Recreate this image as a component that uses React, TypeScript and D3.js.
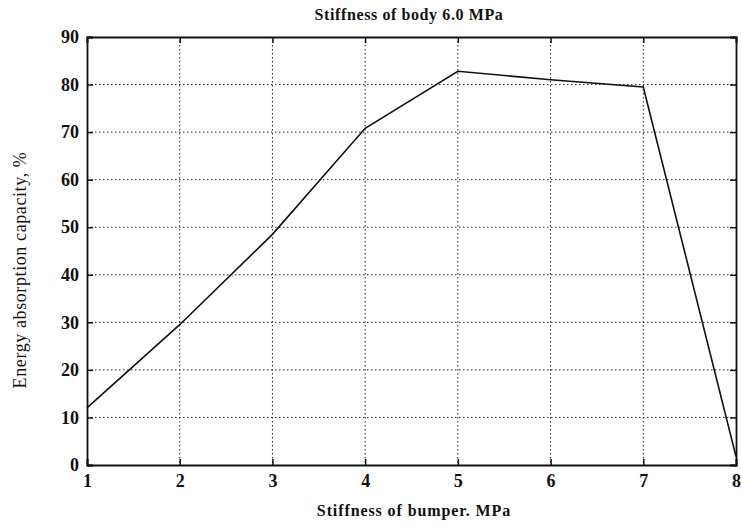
import React, { useRef, useEffect } from "react";
import * as d3 from "d3";

const bumperStiffness = [1, 2, 3, 4, 5, 6, 7, 8];
const energyAbsorption = [12, 29.5, 48.5, 70.8, 82.8, 81, 79.5, 1.8];
const xTicks = [1, 2, 3, 4, 5, 6, 7, 8];
const yTicks = [0, 10, 20, 30, 40, 50, 60, 70, 80, 90];

const App: React.FC = () => {
  const ref = useRef<SVGSVGElement>(null);

  useEffect(() => {
    const svg = d3.select(ref.current);
    svg.selectAll("*").remove();

    const width = 741,
      height = 526;
    const margin = { top: 37, right: 5, bottom: 61, left: 87 };
    const innerWidth = width - margin.left - margin.right;
    const innerHeight = height - margin.top - margin.bottom;

    const x = d3.scaleLinear().domain([1, 8]).range([0, innerWidth]);
    const y = d3.scaleLinear().domain([0, 90]).range([innerHeight, 0]);

    const g = svg
      .append("g")
      .attr("transform", `translate(${margin.left},${margin.top})`);

    // dotted grid
    g.selectAll(".vgrid")
      .data(xTicks.slice(1, -1))
      .enter()
      .append("line")
      .attr("x1", (d) => x(d))
      .attr("x2", (d) => x(d))
      .attr("y1", 0)
      .attr("y2", innerHeight)
      .attr("stroke", "#222")
      .attr("stroke-width", 1)
      .attr("stroke-dasharray", "1.5,2.5");
    g.selectAll(".hgrid")
      .data(yTicks.slice(1, -1))
      .enter()
      .append("line")
      .attr("x1", 0)
      .attr("x2", innerWidth)
      .attr("y1", (d) => y(d))
      .attr("y2", (d) => y(d))
      .attr("stroke", "#222")
      .attr("stroke-width", 1)
      .attr("stroke-dasharray", "1.5,2.5");

    // axes, ticks pointing inward
    const font = "'Liberation Serif', 'DejaVu Serif', serif";
    const xAxis = g
      .append("g")
      .attr("transform", `translate(0,${innerHeight})`)
      .call(d3.axisBottom(x).tickValues(xTicks).tickSize(-6).tickPadding(9).tickFormat(d3.format("d")));
    const yAxis = g
      .append("g")
      .call(d3.axisLeft(y).tickValues(yTicks).tickSize(-6).tickPadding(8).tickFormat(d3.format("d")));
    g.append("g")
      .attr("transform", `translate(${innerWidth},0)`)
      .call(d3.axisRight(y).tickValues(yTicks).tickSize(-6).tickFormat(() => ""));
    g.append("g").call(d3.axisTop(x).tickValues(xTicks).tickSize(-6).tickFormat(() => ""));

    g.selectAll(".domain").attr("stroke", "#111").attr("stroke-width", 1.8);
    g.selectAll(".tick line").attr("stroke", "#111").attr("stroke-width", 1.5);
    [xAxis, yAxis].forEach((a) =>
      a
        .selectAll("text")
        .attr("font-family", font)
        .attr("font-size", 18)
        .attr("font-weight", "bold")
        .attr("fill", "#111")
    );

    // data line
    const line = d3
      .line<number>()
      .x((d, i) => x(bumperStiffness[i]))
      .y((d) => y(d));
    g.append("path")
      .datum(energyAbsorption)
      .attr("d", line)
      .attr("fill", "none")
      .attr("stroke", "#111")
      .attr("stroke-width", 1.6);

    // labels
    svg
      .append("text")
      .attr("x", 409)
      .attr("y", 20)
      .attr("text-anchor", "middle")
      .attr("font-family", font)
      .attr("font-size", 16)
      .attr("font-weight", "bold")
      .attr("letter-spacing", 0.6)
      .attr("fill", "#111")
      .text("Stiffness of body 6.0 MPa");
    svg
      .append("text")
      .attr("x", 414)
      .attr("y", 516)
      .attr("text-anchor", "middle")
      .attr("font-family", font)
      .attr("font-size", 16)
      .attr("font-weight", "bold")
      .attr("letter-spacing", 0.9)
      .attr("fill", "#111")
      .text("Stiffness of bumper. MPa");
    svg
      .append("text")
      .attr("transform", `translate(26,270) rotate(-90)`)
      .attr("text-anchor", "middle")
      .attr("font-family", font)
      .attr("font-size", 18)
      .attr("letter-spacing", 0.6)
      .attr("fill", "#111")
      .text("Energy absorption capacity, %");
  }, []);

  return (
    <svg
      ref={ref}
      width={741}
      height={526}
      style={{ position: "absolute", left: 0, top: 0, background: "#fff" }}
    />
  );
};

export default App;
